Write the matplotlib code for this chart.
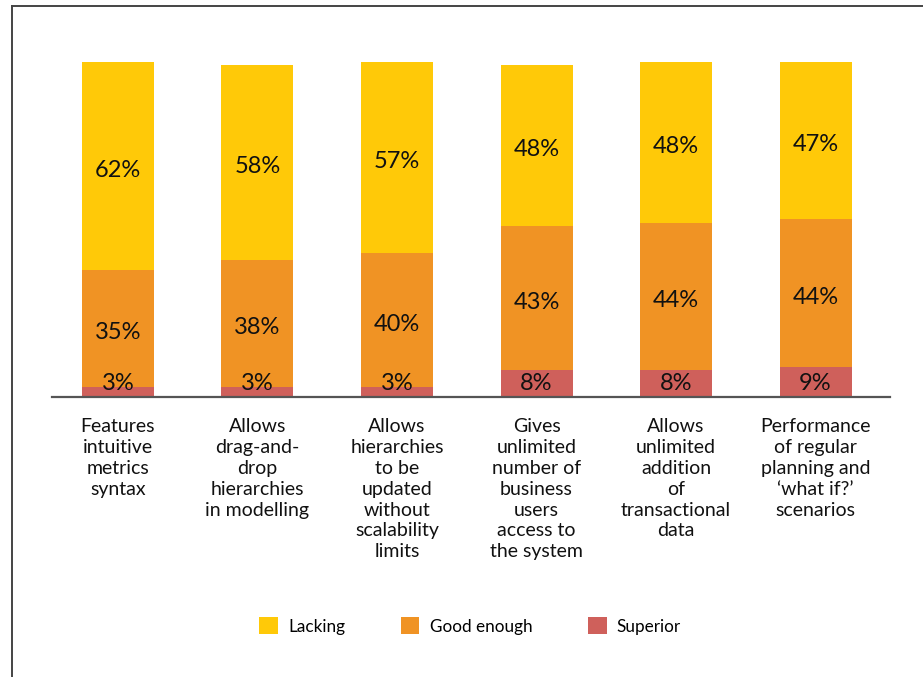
import matplotlib
matplotlib.use("Agg")
import matplotlib.pyplot as plt
from matplotlib.lines import Line2D
from matplotlib.patches import Patch

plt.rcParams["font.family"] = ["Lato", "DejaVu Sans"]

categories = [
    "Features\nintuitive\nmetrics\nsyntax",
    "Allows\ndrag-and-\ndrop\nhierarchies\nin modelling",
    "Allows\nhierarchies\nto be\nupdated\nwithout\nscalability\nlimits",
    "Gives\nunlimited\nnumber of\nbusiness\nusers\naccess to\nthe system",
    "Allows\nunlimited\naddition\nof\ntransactional\ndata",
    "Performance\nof regular\nplanning and\n\u2018what if?\u2019\nscenarios",
]
superior = [3, 3, 3, 8, 8, 9]
good_enough = [35, 38, 40, 43, 44, 44]
lacking = [62, 58, 57, 48, 48, 47]

series_names = ["Lacking", "Good enough", "Superior"]
COLORS = {"Superior": "#CF605B", "Good enough": "#F09324", "Lacking": "#FFC908"}

fig = plt.figure(figsize=(9.23, 6.77), dpi=100)
ax = fig.add_axes([0.0563, 0.4136, 0.908, 0.4948])

x = list(range(len(categories)))
width = 0.516
bottoms = [0] * len(x)
for name, vals in (("Superior", superior), ("Good enough", good_enough), ("Lacking", lacking)):
    ax.bar(x, vals, width, bottom=bottoms, color=COLORS[name], linewidth=0)
    for xi, b, v in zip(x, bottoms, vals):
        # tiny segments get their label nudged up off the baseline
        yc = b + max(v / 2, 5.2)
        ax.annotate(f"{v}%", (xi, yc), xytext=(0, -3), textcoords="offset points",
                    ha="center", va="center", fontsize=17, color="#111111")
    bottoms = [b + v for b, v in zip(bottoms, vals)]

ax.set_xlim(-0.473, 5.534)
ax.set_ylim(0, 100)
for s in ("top", "right", "left"):
    ax.spines[s].set_visible(False)
ax.spines["bottom"].set_color("#555555")
ax.spines["bottom"].set_linewidth(1.6)
ax.set_yticks([])
ax.set_xticks([])

for xi, lab in zip(x, categories):
    ax.annotate(lab, (xi, 0), xytext=(0, -15), textcoords="offset points",
                ha="center", va="top", fontsize=14, linespacing=1.28, color="#111111")

handles = [Patch(facecolor=COLORS[n], edgecolor="none") for n in series_names]
fig.legend(handles, series_names, loc="center", bbox_to_anchor=(470 / 923, 1 - 626 / 677),
           ncol=3, frameon=False, fontsize=12.3, handlelength=1.1, handleheight=1.1,
           handletextpad=0.6, columnspacing=3.25)

# frame around the figure (left and top edges)
fig.add_artist(Line2D([12 / 923, 12 / 923], [0, 1 - 6 / 677], transform=fig.transFigure,
                      color="#444444", linewidth=1.4))
fig.add_artist(Line2D([12 / 923, 1], [1 - 6 / 677, 1 - 6 / 677], transform=fig.transFigure,
                      color="#444444", linewidth=1.4))

fig.savefig("out.png", dpi=100)
